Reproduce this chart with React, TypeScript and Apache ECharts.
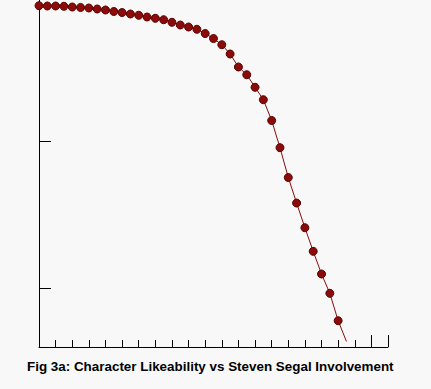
import React, { useEffect, useRef } from "react";
import * as echarts from "echarts";

// Steven Segal involvement (x, in tick units) and character likeability (y)
const involvement: number[] = [
  0, 0.5, 1, 1.5, 2, 2.5, 3, 3.5, 4, 4.5, 5, 5.5, 6, 6.5, 7, 7.5, 8, 8.5, 9, 9.5,
  10, 10.5, 11, 11.5, 12, 12.5, 13, 13.5, 14, 14.5, 15, 15.5, 16, 16.5, 17, 17.5, 18, 18.5,
];
const likeability: number[] = [
  58.03, 57.98, 57.98, 57.93, 57.81, 57.73, 57.64, 57.47, 57.3, 57.05, 56.87, 56.62,
  56.4, 56.11, 55.89, 55.65, 55.21, 54.75, 54.41, 54.02, 53.3, 52.45, 51.4, 49.82,
  47.61, 46.3, 44.16, 42.05, 38.51, 33.89, 28.82, 24.48, 20.28, 16.27, 12.41, 9.13,
  4.47, 0.94,
];
const yTickValues: number[] = [10, 35];
const xLongTickValues: number[] = [20, 21];
const titleText = "Fig 3a: Character Likeability vs Steven Segal Involvement";

export default function App() {
  const ref = useRef<HTMLDivElement>(null);
  useEffect(() => {
    if (!ref.current) return;
    const chart = echarts.init(ref.current, null, { renderer: "svg" });
    const lastIdx = involvement.length - 1;
    const data = involvement.map((x, i) =>
      i === lastIdx
        ? { value: [x, likeability[i]], symbol: "none" }
        : { value: [x, likeability[i]] }
    );
    chart.setOption({
      animation: false,
      backgroundColor: "#f8f8f8",
      graphic: [
        {
          type: "text",
          x: 27,
          y: 366.5,
          scaleX: 1.118,
          style: {
            x: 0,
            y: 0,
            text: titleText,
            align: "left",
            verticalAlign: "middle",
            fontFamily: "Liberation Sans, Arial, sans-serif",
            fontSize: 12,
            fontWeight: "bold",
            fill: "#000",
          },
        },
      ],
      grid: { left: 39, right: 43, top: 0, bottom: 42, containLabel: false },
      xAxis: [
        {
          type: "value",
          min: 0,
          max: 21,
          interval: 1,
          axisLine: { show: true, lineStyle: { color: "#000", width: 1 } },
          axisTick: { show: true, inside: true, length: 7, lineStyle: { color: "#000", width: 1 } },
          axisLabel: { show: false },
          splitLine: { show: false },
        },
        {
          type: "value",
          position: "bottom",
          gridIndex: 0,
          min: 0,
          max: 21,
          interval: 1,
          axisLine: { show: false },
          axisTick: {
            show: true,
            inside: true,
            length: 12,
            customValues: xLongTickValues,
            lineStyle: { color: "#000", width: 1 },
          },
          axisLabel: { show: false },
          splitLine: { show: false },
        },
      ],
      yAxis: {
        type: "value",
        min: 0,
        max: 59,
        axisLine: { show: true, lineStyle: { color: "#000", width: 1 } },
        axisTick: {
          show: true,
          inside: true,
          length: 12,
          customValues: yTickValues,
          lineStyle: { color: "#000", width: 1 },
        },
        axisLabel: { show: false },
        splitLine: { show: false },
      },
      series: [
        {
          type: "line",
          xAxisIndex: 0,
          data,
          symbol: "circle",
          symbolSize: 8,
          clip: false,
          lineStyle: { color: "#8a0c0c", width: 1 },
          itemStyle: { color: "#8b0a0a", borderColor: "#5c0202", borderWidth: 1 },
        },
      ],
    });
    return () => chart.dispose();
  }, []);
  return (
    <div
      ref={ref}
      style={{ position: "fixed", left: 0, top: 0, width: 431, height: 389 }}
    />
  );
}
